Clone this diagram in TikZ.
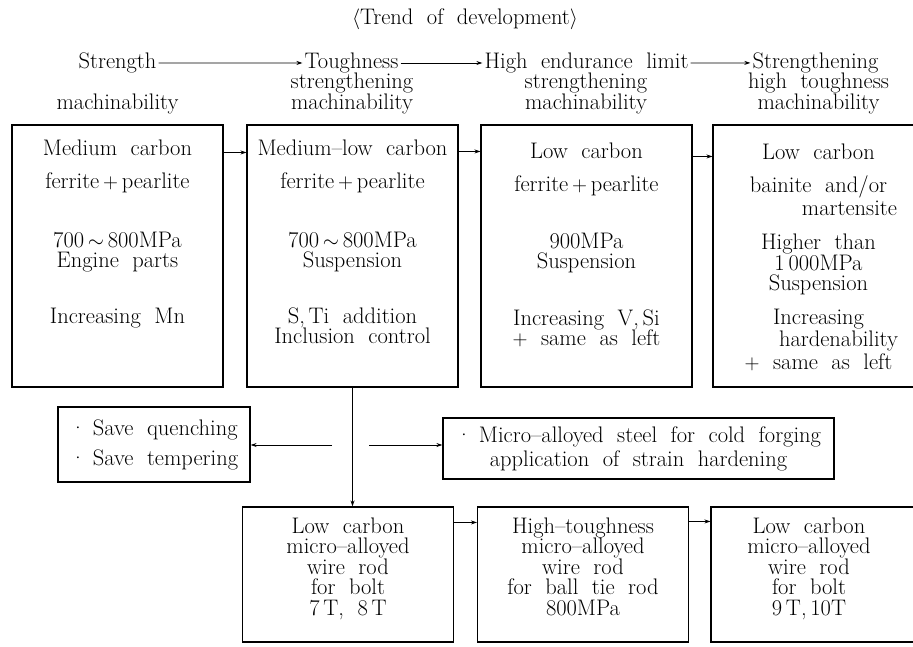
\documentclass[tikz,border=0pt]{standalone}
\usepackage{fontspec}
\usepackage{tikz}
\usetikzlibrary{arrows.meta, positioning}
\newcommand\diagfont{\fontsize{22.5}{20.5}\selectfont\spaceskip=0.6em plus 0.2em minus 0.1em\relax}
\tikzset{
  box/.style={draw, line width=1.1pt, minimum width=211pt, inner sep=0pt},
  sidebox/.style={draw, line width=1.1pt, inner sep=0pt},
  boxtext/.style={align=center, inner sep=0pt, anchor=north},
  lbl/.style={inner sep=2pt, anchor=base},
  link/.style={-{Stealth[length=6pt,width=4pt]}, line width=0.8pt},
}

\begin{document}
\begin{tikzpicture}[x=1pt, y=-1pt, font=\diagfont]
  \useasboundingbox[fill=white] (0,0) rectangle (913,647);
  \clip (0,0) rectangle (913,647);

  % trend of development
  \node[lbl] (title) at (465,24.5) {$\langle$Trend of development$\rangle$};
  \node[lbl] (t1) at (117.5,68.5) {Strength};
  \node[lbl] (t2) at (351.5,68.5) {Toughness};
  \node[lbl] (t3) at (586.5,68.5) {High endurance limit};
  \node[lbl] (t4) at (815.5,68.5) {Strengthening};
  \node[lbl] (h1) at (117.5,109.5) {machinability};
  \node[boxtext] (h2) at (352,73) {strengthening\\machinability};
  \node[boxtext] (h3) at (586,73) {strengthening\\machinability};
  \node[boxtext] (h4) at (818.5,73) {high toughness\\machinability};
  \draw[link] (t1.east) -- (t2.west);
  \draw[link] (t2.east) -- (t3.west);
  \draw[link] (t3.east) -- (t4.west);

  % steels
  \node[box, minimum height=262pt] (m1) at (117.5,256) {};
  \node[boxtext, below=14.9pt of m1.north] (m1t)
    {Medium carbon\\[13pt] ferrite\,$+$\,pearlite\\[38pt] 700\,$\sim$\,800MPa\\ Engine parts\\[35pt] Increasing Mn};
  \node[box, minimum height=262pt] (m2) at (352.5,256) {};
  \node[boxtext, below=14.9pt of m2.north] (m2t)
    {Medium--low carbon\\[13pt] ferrite\,$+$\,pearlite\\[38pt] 700\,$\sim$\,800MPa\\ Suspension\\[35pt] S,\,Ti addition\\ Inclusion control};
  \node[box, minimum height=262pt] (m3) at (586.5,256) {};
  \node[boxtext, below=17.9pt of m3.north] (m3t)
    {Low carbon\\[13pt] ferrite\,$+$\,pearlite\\[36pt] 900MPa\\ Suspension\\[36pt] Increasing V,\,Si\\ $+$ same as left};
  \node[box, minimum height=262pt] (m4) at (818.5,256) {};
  \node[boxtext, below=18.9pt of m4.north] (m4t)
    {Low carbon\\[13pt] bainite and/or\hspace*{22pt}\\[2pt] \hspace*{62pt}martensite\\[14pt]
     Higher than\\ 1\,000MPa\\ Suspension\\[13pt] Increasing\hspace*{42pt}\\[2pt] \hspace*{40pt}hardenability\\[2pt] $+$ same as left};
  \draw[link] ([yshift=-28pt]m1.north east) -- ([yshift=-28pt]m2.north west);
  \draw[link] ([yshift=-27pt]m2.north east) -- ([yshift=-27pt]m3.north west);
  \draw[link] ([yshift=-32pt]m3.north east) -- ([yshift=-32pt]m4.north west);

  % side branches
  \node[sidebox, minimum width=192pt, minimum height=75pt, align=left] (save) at (154,444.5)
    {·\hspace{0.3em}Save quenching\\[9.5pt] ·\hspace{0.3em}Save tempering};
  \node[sidebox, minimum width=391pt, minimum height=61pt, align=center] (cold) at (638.5,448.5)
    {·\hspace{0.3em}Micro--alloyed steel for cold forging\\[3.5pt] application of strain hardening};
  \coordinate (qleft) at (332,445);
  \coordinate (qright) at (369,445);
  \draw[link] (qleft) -- (qleft -| save.east);
  \draw[link] (qright) -- (qright -| cold.west);

  % wire rods
  \node[box, minimum height=135pt] (b1) at (348,574.5) {};
  \node[boxtext, below=10.9pt of b1.north] (b1t)
    {Low carbon\\ micro--alloyed\\ wire rod\\ for bolt\\ 7\,T, 8\,T};
  \node[box, minimum height=135pt] (b2) at (583,574.5) {};
  \node[boxtext, below=10.9pt of b2.north] (b2t)
    {High--toughness\\ micro--alloyed\\ wire rod\\ for ball tie rod\\ 800MPa};
  \node[box, minimum height=135pt] (b3) at (816.5,574.5) {};
  \node[boxtext, below=10.9pt of b3.north, xshift=-7.5pt] (b3t)
    {Low carbon\\ micro--alloyed\\ wire rod\\ for bolt\\ 9\,T,\,10T};
  \draw[link] (m2.south) -- (m2.south |- b1.north);
  \draw[link] ([yshift=-16pt]b1.north east) -- ([yshift=-16pt]b2.north west);
  \draw[link] ([yshift=-15pt]b2.north east) -- ([yshift=-15pt]b3.north west);
\end{tikzpicture}
\end{document}
